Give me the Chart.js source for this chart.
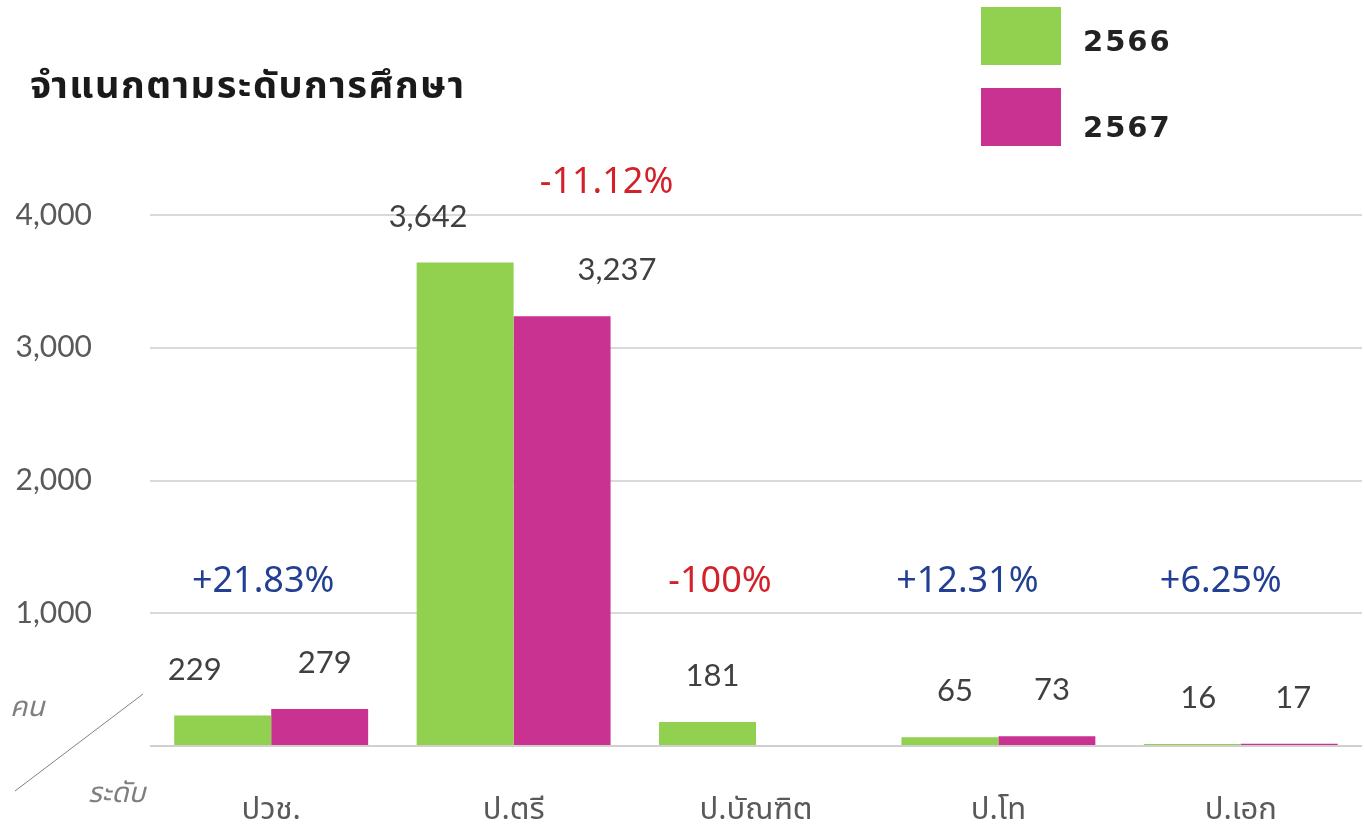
<!DOCTYPE html>
<html lang="th">
<head>
<meta charset="utf-8">
<title>จำแนกตามระดับการศึกษา</title>
<script src="https://cdn.jsdelivr.net/npm/chart.js@4.4.1/dist/chart.umd.min.js"></script>
<style>
  body { margin: 0; background: #fff; }
  #wrap { position: relative; width: 1365px; height: 825px; overflow: hidden; }
  #chart { position: absolute; left: 0; top: 0; }
  .title { position: absolute; left: 30px; top: 58px; font: bold 38px 'Noto Sans Thai', 'Noto Sans', sans-serif; color: #1a1a1a; letter-spacing: 1.5px; }
  .legend-box { position: absolute; left: 981px; width: 80px; height: 58px; }
  .legend-text { position: absolute; left: 1083px; font: bold 29px 'DejaVu Sans', sans-serif; color: #222; letter-spacing: 2px; }
  .corner { position: absolute; font: italic 28px 'Noto Sans Thai', 'Noto Sans', sans-serif; color: #7f7f7f; }
</style>
</head>
<body>
<div id="wrap">
  <canvas id="chart" width="1365" height="825"></canvas>
  <div class="title">จำแนกตามระดับการศึกษา</div>
  <div class="legend-box" style="top:7px;background:#92D050"></div>
  <div class="legend-text" style="top:24px">2566</div>
  <div class="legend-box" style="top:88px;background:#CA3292"></div>
  <div class="legend-text" style="top:110px">2567</div>
  <div class="corner" style="left:10px;top:686px">คน</div>
  <div class="corner" style="left:88px;top:772px">ระดับ</div>
</div>
<script>
// ข้อมูล
const categories = ['ปวช.', 'ป.ตรี', 'ป.บัณฑิต', 'ป.โท', 'ป.เอก'];
const seriesNames = ['2566', '2567'];
const values2566 = [229, 3642, 181, 65, 16];
const values2567 = [279, 3237, 0, 73, 17];
const yTicks = [0, 1000, 2000, 3000, 4000];

// สี
const colors = {
    green: '#92D050',
    pink: '#CA3292',
    up: '#233F94',
    down: '#D42129',
    grid: '#D9D9D9',
    tick: '#595959',
    value: '#404040'
};

// เลื่อนป้ายในแนวนอน (ตามที่วางไว้ในภาพต้นฉบับ)
const labelShiftX = [[-28, -37, 5, 5, 6], [5, 55, 0, 5, 4]];
const pctShiftX = [-8, 93, -36, -31, -20];

const valueLabels = {
    id: 'valueLabels',
    afterDatasetsDraw(chart) {
        const ctx = chart.ctx;
        const y = chart.scales.y;
        const x = chart.scales.x;
        ctx.save();
        ctx.textAlign = 'center';
        ctx.textBaseline = 'middle';
        ctx.font = '31px Lato, "Open Sans", sans-serif';
        ctx.fillStyle = colors.value;
        chart.data.datasets.forEach((ds, i) => {
            chart.getDatasetMeta(i).data.forEach((bar, j) => {
                const v = ds.data[j];
                if (!v) return;
                ctx.fillText(v.toLocaleString('en-US'), bar.x + labelShiftX[i][j], bar.y - 46);
            });
        });

        // เปอร์เซ็นต์เปลี่ยนแปลง
        ctx.font = '36px "Noto Sans", sans-serif';
        categories.forEach((c, j) => {
            const a = values2566[j], b = values2567[j];
            const p = parseFloat(((b - a) / a * 100).toFixed(2));
            const txt = (p >= 0 ? '+' : '') + p + '%';
            const top = Math.max(a, b);
            const py = Math.min(y.getPixelForValue(1240), y.getPixelForValue(top) - 80);
            ctx.fillStyle = p >= 0 ? colors.up : colors.down;
            ctx.fillText(txt, x.getPixelForValue(j) + pctShiftX[j], py);
        });

        // เส้นทแยงมุมที่มุมซ้ายล่าง
        ctx.strokeStyle = '#808080';
        ctx.lineWidth = 1;
        ctx.beginPath();
        ctx.moveTo(15, 791);
        ctx.lineTo(143, 694);
        ctx.stroke();
        ctx.restore();
    }
};

new Chart(document.getElementById('chart'), {
    type: 'bar',
    data: {
        labels: categories,
        datasets: [
            { label: seriesNames[0], data: values2566, backgroundColor: colors.green },
            { label: seriesNames[1], data: values2567, backgroundColor: colors.pink }
        ]
    },
    options: {
        responsive: false,
        animation: false,
        layout: { padding: { top: 215, right: 3, left: 0, bottom: 0 } },
        datasets: { bar: { categoryPercentage: 0.8, barPercentage: 1 } },
        plugins: {
            legend: { display: false },
            tooltip: { enabled: false }
        },
        scales: {
            y: {
                min: 0,
                max: 4000,
                afterFit(scale) { scale.width = 150; },
                afterBuildTicks(scale) { scale.ticks = yTicks.map(v => ({ value: v })); },
                border: { display: false },
                grid: {
                    color: ctx => ctx.tick.value === 0 ? '#CFCFCF' : colors.grid,
                    lineWidth: 2,
                    drawTicks: false
                },
                ticks: {
                    padding: 58,
                    color: colors.tick,
                    font: { size: 30, family: 'Lato, "Open Sans", sans-serif' },
                    callback: v => v === 0 ? '' : v.toLocaleString('en-US')
                }
            },
            x: {
                afterFit(scale) { scale.height = 79; },
                border: { display: false },
                grid: { display: false },
                ticks: {
                    padding: 40,
                    color: colors.tick,
                    font: { size: 31, family: '"Noto Sans Thai", "Noto Sans", sans-serif' }
                }
            }
        }
    },
    plugins: [valueLabels]
});
</script>
</body>
</html>
